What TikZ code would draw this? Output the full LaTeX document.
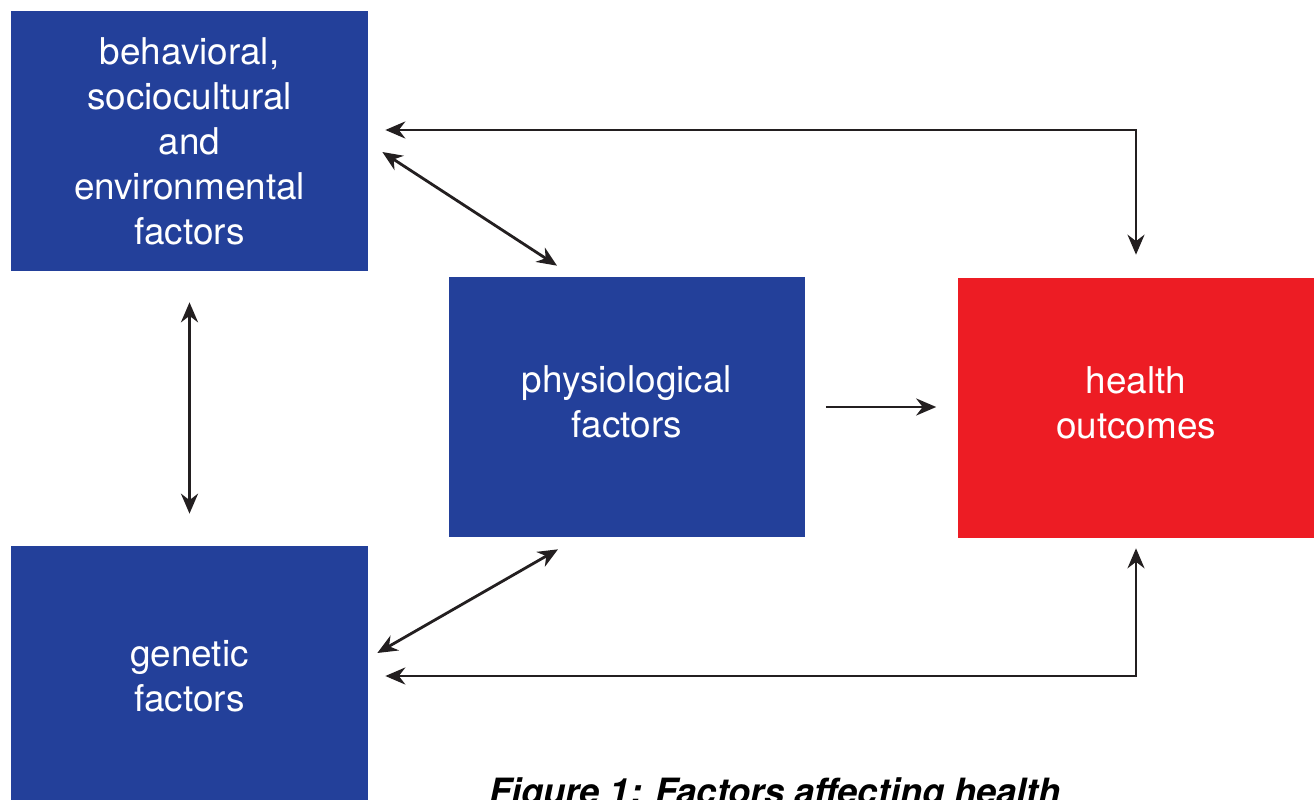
\documentclass[tikz,border=0pt]{standalone}
\usepackage{fontspec}
\setmainfont{TeX Gyre Heros}
\usepackage{xcolor}
\usetikzlibrary{arrows.meta,calc}

\definecolor{boxblue}{HTML}{23409A}
\definecolor{boxred}{HTML}{ED1C24}
\definecolor{inkblack}{HTML}{231F20}

\begin{document}
\begin{tikzpicture}[x=0.02cm, y=-0.02cm,
    factor/.style={fill=boxblue, text=white, align=center, inner sep=0pt,
        minimum width=7.14cm, minimum height=5.2cm,
        font=\fontsize{21}{25.6}\selectfont},
    link/.style={inkblack, line width=1.6pt,
        arrows={Stealth[length=0.4cm, width=0.34cm]-Stealth[length=0.4cm, width=0.34cm]}},
    onelink/.style={inkblack, line width=1.6pt,
        -{Stealth[length=0.4cm, width=0.34cm]}}]
    \clip (0,0) rectangle (1315,800);

    % Draw the boxes
    \node[factor] (behav) at (189.5,141) {behavioral,\\sociocultural\\and\\environmental\\factors};
    \node[factor, text depth=0.2cm] (physio) at (627,407) {physiological\\factors};
    \node[factor, fill=boxred, text depth=0.2cm] (health) at (1136,408) {health\\outcomes};
    \node[factor] (genetic) at (189.5,676) {genetic\\factors};

    % Draw the arrows
    \draw[link, shorten <=0.34cm, shorten >=0.46cm] ([yshift=0.22cm]behav.east) -| (health.north);
    \draw[link] ($(behav.east)+(14,11)$) -- ($(physio.north)+(-70,-11)$);
    \draw[link, shorten <=0.62cm, shorten >=0.64cm] (behav.south) -- (genetic.north);
    \draw[onelink, shorten <=0.4cm, shorten >=0.42cm] (physio.east) -- (physio.east -| health.west);
    \draw[link] ($(genetic.east)+(9,-23)$) -- ($(physio.south)+(-69,12)$);
    \draw[link, shorten <=0.34cm, shorten >=0.2cm] (genetic.east) -| (health.south);

    \node[anchor=base, font=\fontsize{20.6}{25}\selectfont\bfseries\itshape] (caption) at (775,804) {Figure 1: Factors affecting health};
\end{tikzpicture}
\end{document}
